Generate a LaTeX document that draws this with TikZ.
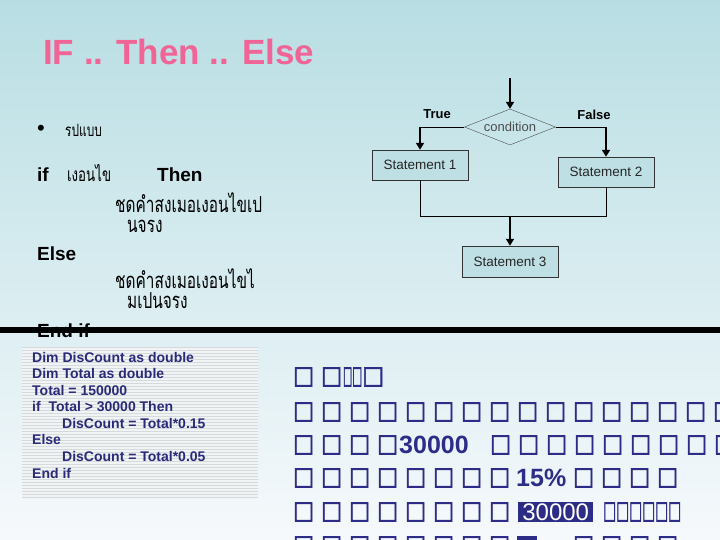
\documentclass[tikz,border=0pt]{standalone}
\usepackage{fontspec}
\usepackage{graphicx}
\setmainfont{Liberation Sans}
\newfontfamily\thaifont[Script=Thai,FakeStretch=0.7]{Loma}
\newfontfamily\tofufont[FakeBold=2.5]{DejaVu Sans}
\usetikzlibrary{shapes.geometric,arrows.meta,patterns}
\definecolor{bgtop}{RGB}{184,222,227}
\definecolor{bgbot}{RGB}{246,249,252}
\definecolor{titlepink}{RGB}{240,100,150}
\definecolor{navy}{RGB}{42,42,120}
\definecolor{tofublue}{RGB}{45,45,135}
\definecolor{boxfill}{RGB}{190,223,228}
\definecolor{codebg}{RGB}{241,244,245}
\definecolor{codeln}{RGB}{214,218,220}
\newcommand\tf{\makebox[28pt][l]{\resizebox*{21pt}{19pt}{\tofufont □}}}
\newcommand\tfw[1]{\makebox[#1][l]{\resizebox*{21pt}{19pt}{\tofufont □}}}
\newcommand\tfn[1]{\resizebox*{#1}{19pt}{\tofufont □}}
\tikzset{
  hd/.style={font=\fontsize{19}{19}\selectfont\bfseries, anchor=base west, inner sep=0},
  th/.style={font=\thaifont\fontsize{22}{22}\selectfont, anchor=base west, inner sep=0},
  codeline/.style={font=\fontsize{14}{14}\selectfont\bfseries, text=navy, anchor=base west, inner sep=0},
  stbox/.style={draw=black!80, fill=boxfill, minimum width=96pt, minimum height=30pt, font=\fontsize{13.5}{13.5}\selectfont, text=black!85, inner sep=0},
  flowarrow/.style={line width=2.6pt, -{Triangle[width=8pt,length=7pt]}},
  flowline/.style={line width=0.8pt},
  lbl/.style={font=\fontsize{13}{13}\selectfont\bfseries, inner sep=0},
  tofurow/.style={anchor=west, inner sep=0, text=tofublue},
  tofunum/.style={anchor=west, inner sep=0, text=tofublue, font=\fontsize{25}{25}\selectfont\bfseries}
}
\begin{document}
\begin{tikzpicture}[x=1pt,y=-1pt]
\useasboundingbox (0,0) rectangle (720,540);
\clip (0,0) rectangle (720,540);
\shade[top color=bgtop,bottom color=bgbot] (0,0) rectangle (720,540);

% title
\node[anchor=base west, inner sep=0, text=titlepink, font=\fontsize{35}{35}\selectfont\bfseries] (title) at (43,65) {IF .. Then .. Else};

% left syntax
\node[inner sep=0, font=\fontsize{22}{22}\selectfont] (bul) at (41,130) {•};
\node[th, font=\thaifont\fontsize{17}{17}\selectfont] (fmt) at (65,137) {รปแบบ};
\node[hd] (kif) at (37,182) {if};
\node[th, font=\thaifont\fontsize{19}{19}\selectfont] (cnd) at (67,182) {เงอนไข};
\node[hd] (kthen) at (157,182) {Then};
\node[th] (t1a) at (115,212) {ชดคำสงเมอเงอนไขเป};
\node[th] (t1b) at (127,233) {นจรง};
\node[hd] (kelse) at (37,260) {Else};
\node[th] (t2a) at (115,288) {ชดคำสงเมอเงอนไขไ};
\node[th] (t2b) at (127,308) {มเปนจรง};
\node[hd] (kend) at (37,337) {End if};

% flowchart
\node[draw=black!70, shape=diamond, shape aspect=2.5, minimum width=91pt, minimum height=36pt, inner sep=0, font=\fontsize{13}{13}\selectfont, text=black!70] (cond) at (510,127) {condition};
\node[stbox] (s1) at (420,165) {Statement 1};
\node[stbox] (s2) at (606,172) {Statement 2};
\node[stbox, minimum height=31pt] (s3) at (510,261.5) {Statement 3};
\node[lbl] (ltrue) at (437,114) {True};
\node[lbl] (lfalse) at (594,115) {False};
\coordinate (top) at (510,78);
\coordinate (lc) at (420,127);
\coordinate (rc) at (606,127);
\coordinate (ml) at (420,216);
\coordinate (mr) at (606,216);
\coordinate (mm) at (510,216);
\draw[flowarrow] (top) -- (cond.north);
\draw[flowline] (cond.west) -- (lc);
\draw[flowarrow] (lc) -- (s1.north);
\draw[flowline] (cond.east) -- (rc);
\draw[flowarrow] (rc) -- (s2.north);
\draw[flowline] (s1.south) -- (ml) -- (mr) -- (s2.south);
\draw[flowarrow] (mm) -- (s3.north);

% separator line
\draw[line width=6pt] (0,330) -- (720,330);

% code box
\fill[codebg] (22,347) rectangle (258,499);
\fill[pattern=horizontal lines, pattern color=codeln] (22,347) rectangle (258,499);
\node[codeline] (c1) at (32,362) {Dim DisCount as double};
\node[codeline] (c2) at (32,378.6) {Dim Total as double};
\node[codeline] (c3) at (32,395.1) {Total = 150000};
\node[codeline] (c4) at (32,411.7) {if\ \ Total > 30000 Then};
\node[codeline] (c5) at (62,428.3) {DisCount = Total*0.15};
\node[codeline] (c6) at (32,444.9) {Else};
\node[codeline] (c7) at (62,461.4) {DisCount = Total*0.05};
\node[codeline] (c8) at (32,478) {End if};

% garbled text block
\node[tofurow] (r1) at (293,377) {\tf\tfw{22pt}\tfn{9pt}\tfn{10pt}\tfn{22pt}};
\node[tofurow] (r2) at (293,412) {\tf\tf\tf\tf\tf\tf\tf\tf\tf\tf\tf\tf\tf\tf\tf\tf};
\node[tofurow] (r3a) at (293,445) {\tf\tf\tf\tf};
\node[tofunum] (r3b) at (399,445) {30000};
\node[tofurow] (r3c) at (490,445) {\tf\tf\tf\tf\tf\tf\tf\tf\tf};
\node[tofurow] (r4a) at (293,478) {\tf\tf\tf\tf\tf\tf\tf\tf};
\node[tofunum] (r4b) at (516,478) {15\%};
\node[tofurow] (r4c) at (573,478) {\tf\tf\tf\tf};
\node[tofurow] (r5a) at (293,512) {\tf\tf\tf\tf\tf\tf\tf\tf};
\node[tofunum, fill=tofublue, text=white, minimum width=75pt, minimum height=20pt, font=\fontsize{24}{24}\selectfont] (r5b) at (518,512) {30000};
\node[tofurow] (r5c) at (603,512) {\tfn{13pt}\tfn{13pt}\tfn{13pt}\tfn{13pt}\tfn{13pt}\tfn{13pt}};
\node[tofurow] (r6a) at (293,546) {\tf\tf\tf\tf\tf\tf\tf\tf};
\fill[tofublue] (517,536) rectangle (537,540);
\node[tofurow] (r6c) at (573,546) {\tf\tf\tf\tf};
\end{tikzpicture}
\end{document}
